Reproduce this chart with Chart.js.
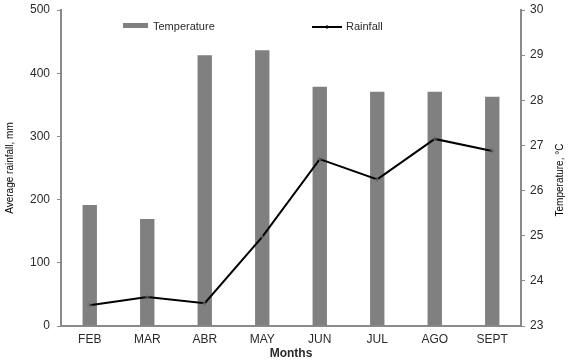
<!DOCTYPE html>
<html>
<head>
<meta charset="utf-8">
<script src="https://cdn.jsdelivr.net/npm/chart.js@4"></script>
<style>
  html, body { margin: 0; padding: 0; background: #fff; }
  #wrap { width: 570px; height: 361px; }
</style>
</head>
<body>
<div id="wrap"><canvas id="chart"></canvas></div>
<script>
const months = ["FEB", "MAR", "ABR", "MAY", "JUN", "JUL", "AGO", "SEPT"];
const temperature = [25.68, 25.37, 29.0, 29.11, 28.3, 28.19, 28.19, 28.08];
const rainfall = [33, 46, 36, 141, 264, 232, 296, 277];
const rainTicks = [0, 100, 200, 300, 400, 500];
const tempTicks = [23, 24, 25, 26, 27, 28, 29, 30];

const axisGray = "#8a8a8a";
const barGray = "#808080";
const textColor = "#2a2a2a";

// legend + right-hand title drawn by hand so they sit inside the plot like the original
const extras = {
  id: "extras",
  afterDraw(chart) {
    const ctx = chart.ctx;
    const ds = chart.data.datasets;
    ctx.save();
    ctx.font = "11px 'Liberation Sans', Arial, sans-serif";
    ctx.fillStyle = textColor;
    ctx.textBaseline = "middle";

    // Temperature swatch
    ctx.fillStyle = ds[1].backgroundColor;
    ctx.fillRect(123, 23, 25, 5);
    ctx.fillStyle = textColor;
    ctx.fillText(ds[1].label, 153, 27);

    // Rainfall line sample
    ctx.strokeStyle = ds[0].borderColor;
    ctx.lineWidth = 2;
    ctx.beginPath();
    ctx.moveTo(312, 27);
    ctx.lineTo(342, 27);
    ctx.stroke();
    ctx.lineWidth = 1;
    ctx.beginPath();
    ctx.moveTo(327, 25);
    ctx.lineTo(327, 29);
    ctx.stroke();
    ctx.fillText(ds[0].label, 346, 27);

    // right axis title, reading bottom to top
    ctx.font = "10px 'Liberation Sans', Arial, sans-serif";
    ctx.fillStyle = "#000";
    ctx.textAlign = "center";
    ctx.translate(560, 180);
    ctx.rotate(-Math.PI / 2);
    ctx.fillText("Temperature, °C", 0, 0);
    ctx.restore();
  },
};

new Chart(document.getElementById("chart"), {
  type: "bar",
  data: {
    labels: months,
    datasets: [
      {
        type: "line",
        label: "Rainfall",
        data: rainfall,
        yAxisID: "y",
        borderColor: "#000",
        borderWidth: 2,
        pointStyle: "cross",
        pointRadius: 2.5,
        pointBorderColor: "#666",
        pointBorderWidth: 1,
        tension: 0,
        fill: false,
        order: 0,
      },
      {
        label: "Temperature",
        data: temperature,
        yAxisID: "y1",
        backgroundColor: barGray,
        borderWidth: 0,
        barPercentage: 0.25,
        categoryPercentage: 1,
        base: 23,
        order: 1,
      },
    ],
  },
  options: {
    responsive: true,
    maintainAspectRatio: false,
    animation: false,
    layout: { padding: { top: 0, left: 0, right: 0, bottom: 0 } },
    plugins: {
      legend: { display: false },
      tooltip: { enabled: false },
    },
    scales: {
      x: {
        grid: { display: false, drawTicks: false },
        border: { display: true, color: axisGray, width: 2 },
        ticks: {
          padding: 6,
          color: textColor,
          font: { family: "'Liberation Sans', Arial, sans-serif", size: 12 },
        },
        title: {
          display: true,
          text: "Months",
          color: textColor,
          padding: { top: 0, bottom: 0 },
          font: { family: "'Liberation Sans', Arial, sans-serif", size: 12, weight: "bold" },
        },
        afterFit(scale) {
          scale.height = 35;
          scale.paddingLeft = 0;
          scale.paddingRight = 0;
        },
      },
      y: {
        position: "left",
        min: 0,
        max: 500,
        afterBuildTicks(scale) {
          scale.ticks = rainTicks.map((v) => ({ value: v }));
        },
        grid: { drawOnChartArea: false, drawTicks: true, tickLength: 4, color: axisGray, lineWidth: 1 },
        border: { display: true, color: axisGray, width: 2 },
        ticks: {
          padding: 7,
          color: textColor,
          font: { family: "'Liberation Sans', Arial, sans-serif", size: 12 },
        },
        title: {
          display: true,
          text: "Average rainfall, mm",
          color: "#000",
          padding: { top: 4, bottom: 0 },
          font: { family: "'Liberation Sans', Arial, sans-serif", size: 10 },
        },
        afterFit(scale) {
          scale.width = 61;
          scale.paddingTop = 10;
          scale.paddingBottom = 0;
        },
      },
      y1: {
        position: "right",
        min: 23,
        max: 30,
        afterBuildTicks(scale) {
          scale.ticks = tempTicks.map((v) => ({ value: v }));
        },
        grid: { drawOnChartArea: false, drawTicks: true, tickLength: 4, color: axisGray, lineWidth: 1 },
        border: { display: true, color: axisGray, width: 2 },
        ticks: {
          padding: 5,
          color: textColor,
          font: { family: "'Liberation Sans', Arial, sans-serif", size: 12 },
        },
        afterFit(scale) {
          scale.width = 49;
          scale.paddingTop = 10;
          scale.paddingBottom = 0;
        },
      },
    },
  },
  plugins: [extras],
});
</script>
</body>
</html>
